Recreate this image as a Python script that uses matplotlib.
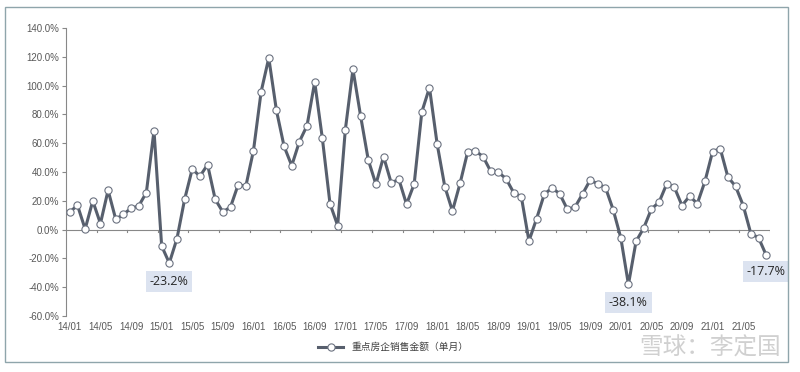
import matplotlib
matplotlib.use('Agg')
import matplotlib.pyplot as plt
from matplotlib.patches import Rectangle
import numpy as np

plt.rcParams['font.family'] = ['Liberation Sans', 'Noto Sans CJK SC', 'DejaVu Sans']

# monthly sales yoy of key developers, 14/01 .. 21/08 (%)
values = [12.2, 16.9, 0.4, 19.9, 4.2, 27.3, 7.2, 10.6, 14.8, 16.4, 25.7, 68.7,
          -11.4, -23.2, -6.3, 21.0, 42.1, 37.0, 45.1, 21.0, 12.2, 15.7, 31.2, 30.1,
          54.9, 95.8, 119.2, 82.8, 57.8, 44.4, 61.1, 72.2, 102.5, 63.4, 18.0, 2.8,
          69.2, 111.3, 78.9, 48.4, 31.5, 50.7, 32.4, 34.9, 17.6, 31.7, 81.7, 98.6,
          59.5, 29.9, 12.9, 32.2, 54.2, 54.6, 50.7, 40.5, 39.8, 35.4, 25.7, 22.9,
          -7.9, 7.6, 24.5, 28.9, 25.0, 14.3, 15.5, 24.7, 34.4, 31.7, 29.2, 13.9,
          -5.6, -38.1, -8.1, 1.1, 14.3, 19.0, 31.7, 29.4, 16.7, 23.3, 18.0, 33.5,
          54.2, 56.2, 36.5, 30.1, 16.7, -2.8, -5.6, -17.7]
months = ['%02d/%02d' % (14 + i // 12, i % 12 + 1) for i in range(len(values))]
tick_labels = months[::4]
series_name = '重点房企销售金额（单月）'
callouts = [13, 73, 91]  # indexes of labelled points

fig = plt.figure(figsize=(8, 3.72), dpi=100)
fig.patches.append(Rectangle((5 / 800, 1 - 362 / 372), 783 / 800, 355 / 372,
                             transform=fig.transFigure, fill=False,
                             edgecolor='#8fa5ab', linewidth=1.0))
ax = fig.add_axes([66 / 800, 1 - 316 / 372, 704 / 800, 288 / 372])

x = np.arange(len(values))
line_color = '#575f6d'
ax.plot(x, values, color=line_color, linewidth=2.2, marker='o', markersize=5.2,
        markerfacecolor='white', markeredgecolor='#6b7280', markeredgewidth=0.8,
        label=series_name, zorder=3)

ax.set_xlim(-0.5, len(values) - 0.5)
ax.set_ylim(-60, 140)
ax.set_yticks(np.arange(-60, 141, 20))
ax.set_yticklabels(['%.1f%%' % v for v in np.arange(-60, 141, 20)],
                   fontsize=7, color='#595959')
ax.set_xticks(x[::4])
ax.set_xticklabels(tick_labels, fontsize=7, color='#595959')
ax.tick_params(axis='x', length=0, pad=4)
ax.tick_params(axis='y', length=3, color='#888888', width=0.8, pad=2)

for s in ['top', 'right', 'bottom']:
    ax.spines[s].set_visible(False)
ax.spines['left'].set_color('#888888')
ax.spines['left'].set_linewidth(0.8)

# zero line with category-boundary ticks
ax.axhline(0, color='#888888', linewidth=0.8, zorder=1)
for b in np.arange(3.5, len(values), 4):
    ax.plot([b, b], [0, -1.6], color='#888888', linewidth=0.8, zorder=1)

offsets = {13: (0, -12.7), 73: (0, -12.4), 91: (0, -11.3)}
for i in callouts:
    dx, dy = offsets[i]
    ax.annotate('%.1f%%' % values[i], (x[i], values[i]), xytext=(x[i] + dx, values[i] + dy),
                textcoords='data', ha='center', va='center', fontsize=9, color='#262626',
                family=['Open Sans', 'DejaVu Sans'], annotation_clip=False,
                bbox=dict(boxstyle='square,pad=0.3', facecolor='#dce3f0', edgecolor='none'))

leg = fig.legend(loc='center', bbox_to_anchor=(393 / 800, 1 - 347 / 372), frameon=False,
                 fontsize=7, handlelength=2.6, prop={'family': ['Noto Sans CJK SC'], 'size': 7})
for t in leg.get_texts():
    t.set_color('#404040')

fig.text(710 / 800, 1 - 348 / 372, '雪球：李定国', fontsize=17, color='#d0d0d0',
         ha='center', va='center', family=['Noto Sans CJK SC'])

fig.savefig('out.png', dpi=100)
